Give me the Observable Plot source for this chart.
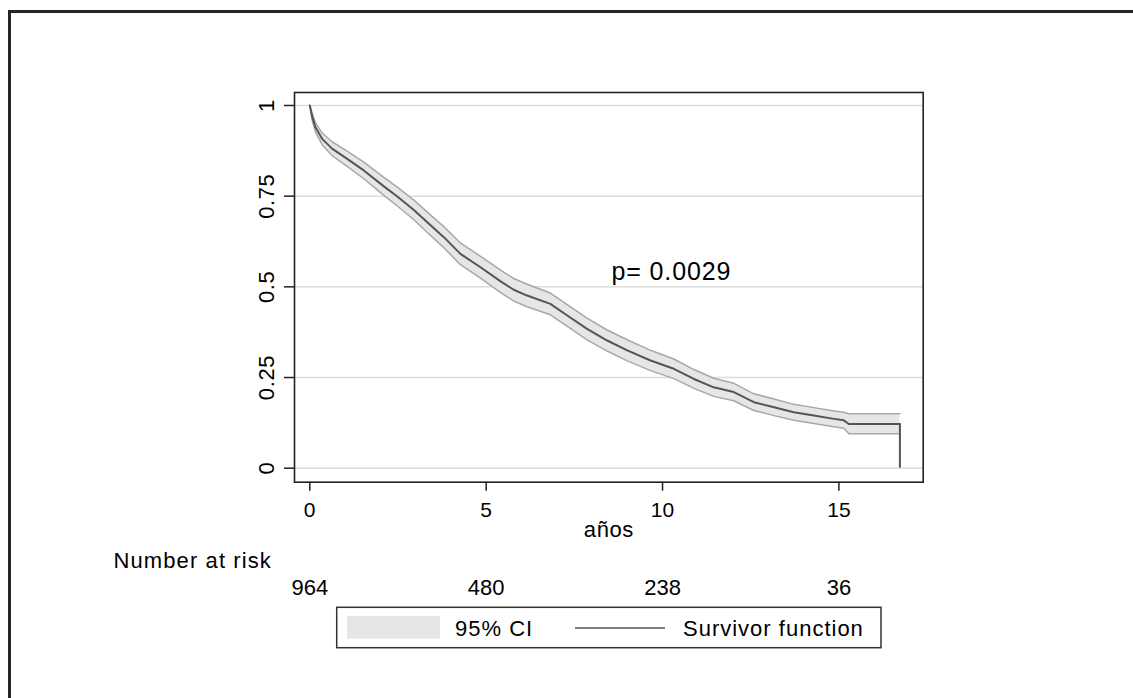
<!DOCTYPE html>
<html>
<head>
<meta charset="utf-8">
<script src="https://cdn.jsdelivr.net/npm/d3@7"></script>
<script src="https://cdn.jsdelivr.net/npm/@observablehq/plot@0.6"></script>
<style>
  html, body { margin: 0; padding: 0; background: #fff; overflow: hidden; }
  #wrap { position: relative; width: 1133px; height: 698px; overflow: hidden; background: #fff; }
  #border { position: absolute; left: 8px; top: 10px; width: 3000px; height: 3000px;
            border-left: 3px solid #262626; border-top: 3px solid #262626; pointer-events: none; }
  #chart { position: absolute; left: 0; top: 0; }
  svg text { font-family: "Liberation Sans", Arial, Helvetica, sans-serif; fill: #000; }
  g[aria-label="y-axis tick"] path, g[aria-label="x-axis tick"] path { stroke-width: 1.5; }
</style>
</head>
<body>
<div id="wrap">
  <div id="chart"></div>
  <div id="border"></div>
</div>
<script>
// ---- data ----
const times = [0, 0.07, 0.16, 0.35, 0.63, 1.06, 1.53, 2.10, 2.48, 2.95, 3.33, 3.80, 4.27, 4.84, 5.41, 5.78, 6.16, 6.82, 7.30, 7.86, 8.43, 9.00, 9.66, 10.32, 10.89, 11.45, 12.02, 12.59, 13.16, 13.72, 14.29, 14.86, 15.14, 15.28, 16.73];
const surv  = [1.0, 0.968, 0.940, 0.908, 0.881, 0.853, 0.821, 0.777, 0.749, 0.712, 0.678, 0.637, 0.591, 0.554, 0.515, 0.492, 0.476, 0.453, 0.421, 0.384, 0.352, 0.325, 0.297, 0.274, 0.246, 0.223, 0.210, 0.182, 0.168, 0.154, 0.145, 0.136, 0.132, 0.122, 0.122];
const lower = [1.0, 0.958, 0.927, 0.892, 0.862, 0.832, 0.798, 0.752, 0.723, 0.685, 0.650, 0.608, 0.561, 0.524, 0.484, 0.461, 0.445, 0.423, 0.391, 0.354, 0.323, 0.296, 0.269, 0.247, 0.220, 0.198, 0.186, 0.159, 0.145, 0.132, 0.123, 0.114, 0.110, 0.095, 0.095];
const upper = [1.0, 0.978, 0.953, 0.924, 0.900, 0.874, 0.844, 0.802, 0.775, 0.739, 0.706, 0.666, 0.621, 0.584, 0.546, 0.523, 0.507, 0.483, 0.451, 0.414, 0.381, 0.354, 0.325, 0.301, 0.272, 0.248, 0.234, 0.205, 0.191, 0.176, 0.167, 0.158, 0.154, 0.150, 0.150];

const yTicks = [0, 0.25, 0.5, 0.75, 1];
const yTickLabels = ["0", "0.25", "0.5", "0.75", "1"];
const xTicks = [0, 5, 10, 15];
const xTickLabels = ["0", "5", "10", "15"];
const riskTimes = [0, 5, 10, 15];
const atRisk = [964, 480, 238, 36];
const xTitle = "años";
const riskTitle = "Number at risk";
const pText = "p= 0.0029";
const pPosition = {t: 8.55, s: 0.5175};
const legendLabels = ["95% CI", "Survivor function"];

// ---- build tables ----
const km = times.map((t, i) => ({t, s: surv[i], lo: lower[i], hi: upper[i]}));
const risk = riskTimes.map((t, i) => ({t, n: atRisk[i]}));
const last = km[km.length - 1];

const chart = Plot.plot({
  width: 1133,
  height: 698,
  marginTop: 92,
  marginRight: 210.3,
  marginBottom: 216.3,
  marginLeft: 294,
  style: {background: "transparent", color: "#222", fontFamily: "Liberation Sans, Arial, sans-serif"},
  x: {domain: [-0.434, 17.39], ticks: xTicks, tickSize: 9, tickFormat: () => "", label: null},
  y: {domain: [-0.0386, 1.0358], ticks: yTicks, tickSize: 10, tickFormat: () => "", label: null},
  marks: [
    Plot.ruleY(yTicks, {y: d => d, stroke: "#dcdcdc", strokeWidth: 1.5}),
    Plot.areaY(km, {x: "t", y1: "lo", y2: "hi", fill: "#e6e6e6"}),
    Plot.line(km, {x: "t", y: "lo", stroke: "#a8a8a8", strokeWidth: 1.5}),
    Plot.line(km, {x: "t", y: "hi", stroke: "#a8a8a8", strokeWidth: 1.5}),
    Plot.line(km, {x: "t", y: "s", stroke: "#555555", strokeWidth: 2}),
    Plot.ruleX([last], {x: "t", y1: 0, y2: "s", stroke: "#555555", strokeWidth: 2}),
    Plot.frame({stroke: "#222", strokeWidth: 1.6}),
    // y tick labels (rotated)
    Plot.text(yTicks, {y: d => d, text: (d, i) => yTickLabels[i], frameAnchor: "left", dx: -20.7,
      rotate: -90, textAnchor: "middle", lineAnchor: "bottom", fontSize: 22}),
    // x tick labels
    Plot.text(xTicks, {x: d => d, text: (d, i) => xTickLabels[i], frameAnchor: "bottom", dy: 34.3,
      textAnchor: "middle", lineAnchor: "bottom", fontSize: 21}),
    // x title
    Plot.text([xTitle], {text: d => d, frameAnchor: "bottom", dy: 55, textAnchor: "middle",
      lineAnchor: "bottom", fontSize: 22}),
    // number at risk title
    Plot.text([riskTitle], {text: d => d, frameAnchor: "bottom-left", dx: -181, dy: 86,
      textAnchor: "start", lineAnchor: "bottom", fontSize: 22}),
    // number at risk values
    Plot.text(risk, {x: "t", text: "n", frameAnchor: "bottom", dy: 112.6, textAnchor: "middle",
      lineAnchor: "bottom", fontSize: 22}),
    // p-value annotation
    Plot.text([pText], {x: () => pPosition.t, y: () => pPosition.s, text: d => d, textAnchor: "start",
      lineAnchor: "bottom", fontSize: 25})
  ]
});

document.getElementById("chart").appendChild(chart);

// ---- letter spacing to match the wider reference typeface ----
const spacing = new Map([
  [riskTitle, 1.1], [pText, 0.9], [xTitle, 0.6]
]);
yTickLabels.forEach(s => spacing.set(s, 0.6));
const svg = d3.select(chart);
svg.selectAll("text").each(function() {
  const s = spacing.get(this.textContent);
  if (s != null) this.style.letterSpacing = s + "px";
});

// ---- legend (below the plot, inside the same SVG) ----
const lg = svg.append("g").attr("class", "legend").attr("text-anchor", "start")
  .style("letter-spacing", "1px");
lg.append("rect").attr("x", 336.7).attr("y", 607.3).attr("width", 544.3).attr("height", 40.4)
  .attr("fill", "#fff").attr("stroke", "#333").attr("stroke-width", 1.5);
lg.append("rect").attr("x", 347).attr("y", 616).attr("width", 93).attr("height", 22.7)
  .attr("fill", "#e6e6e6");
lg.append("text").attr("x", 455).attr("y", 636).attr("font-size", 22).text(legendLabels[0]);
lg.append("line").attr("x1", 575).attr("x2", 665).attr("y1", 628).attr("y2", 628)
  .attr("stroke", "#555").attr("stroke-width", 1.6);
lg.append("text").attr("x", 683).attr("y", 636).attr("font-size", 22).text(legendLabels[1]);
</script>
</body>
</html>
